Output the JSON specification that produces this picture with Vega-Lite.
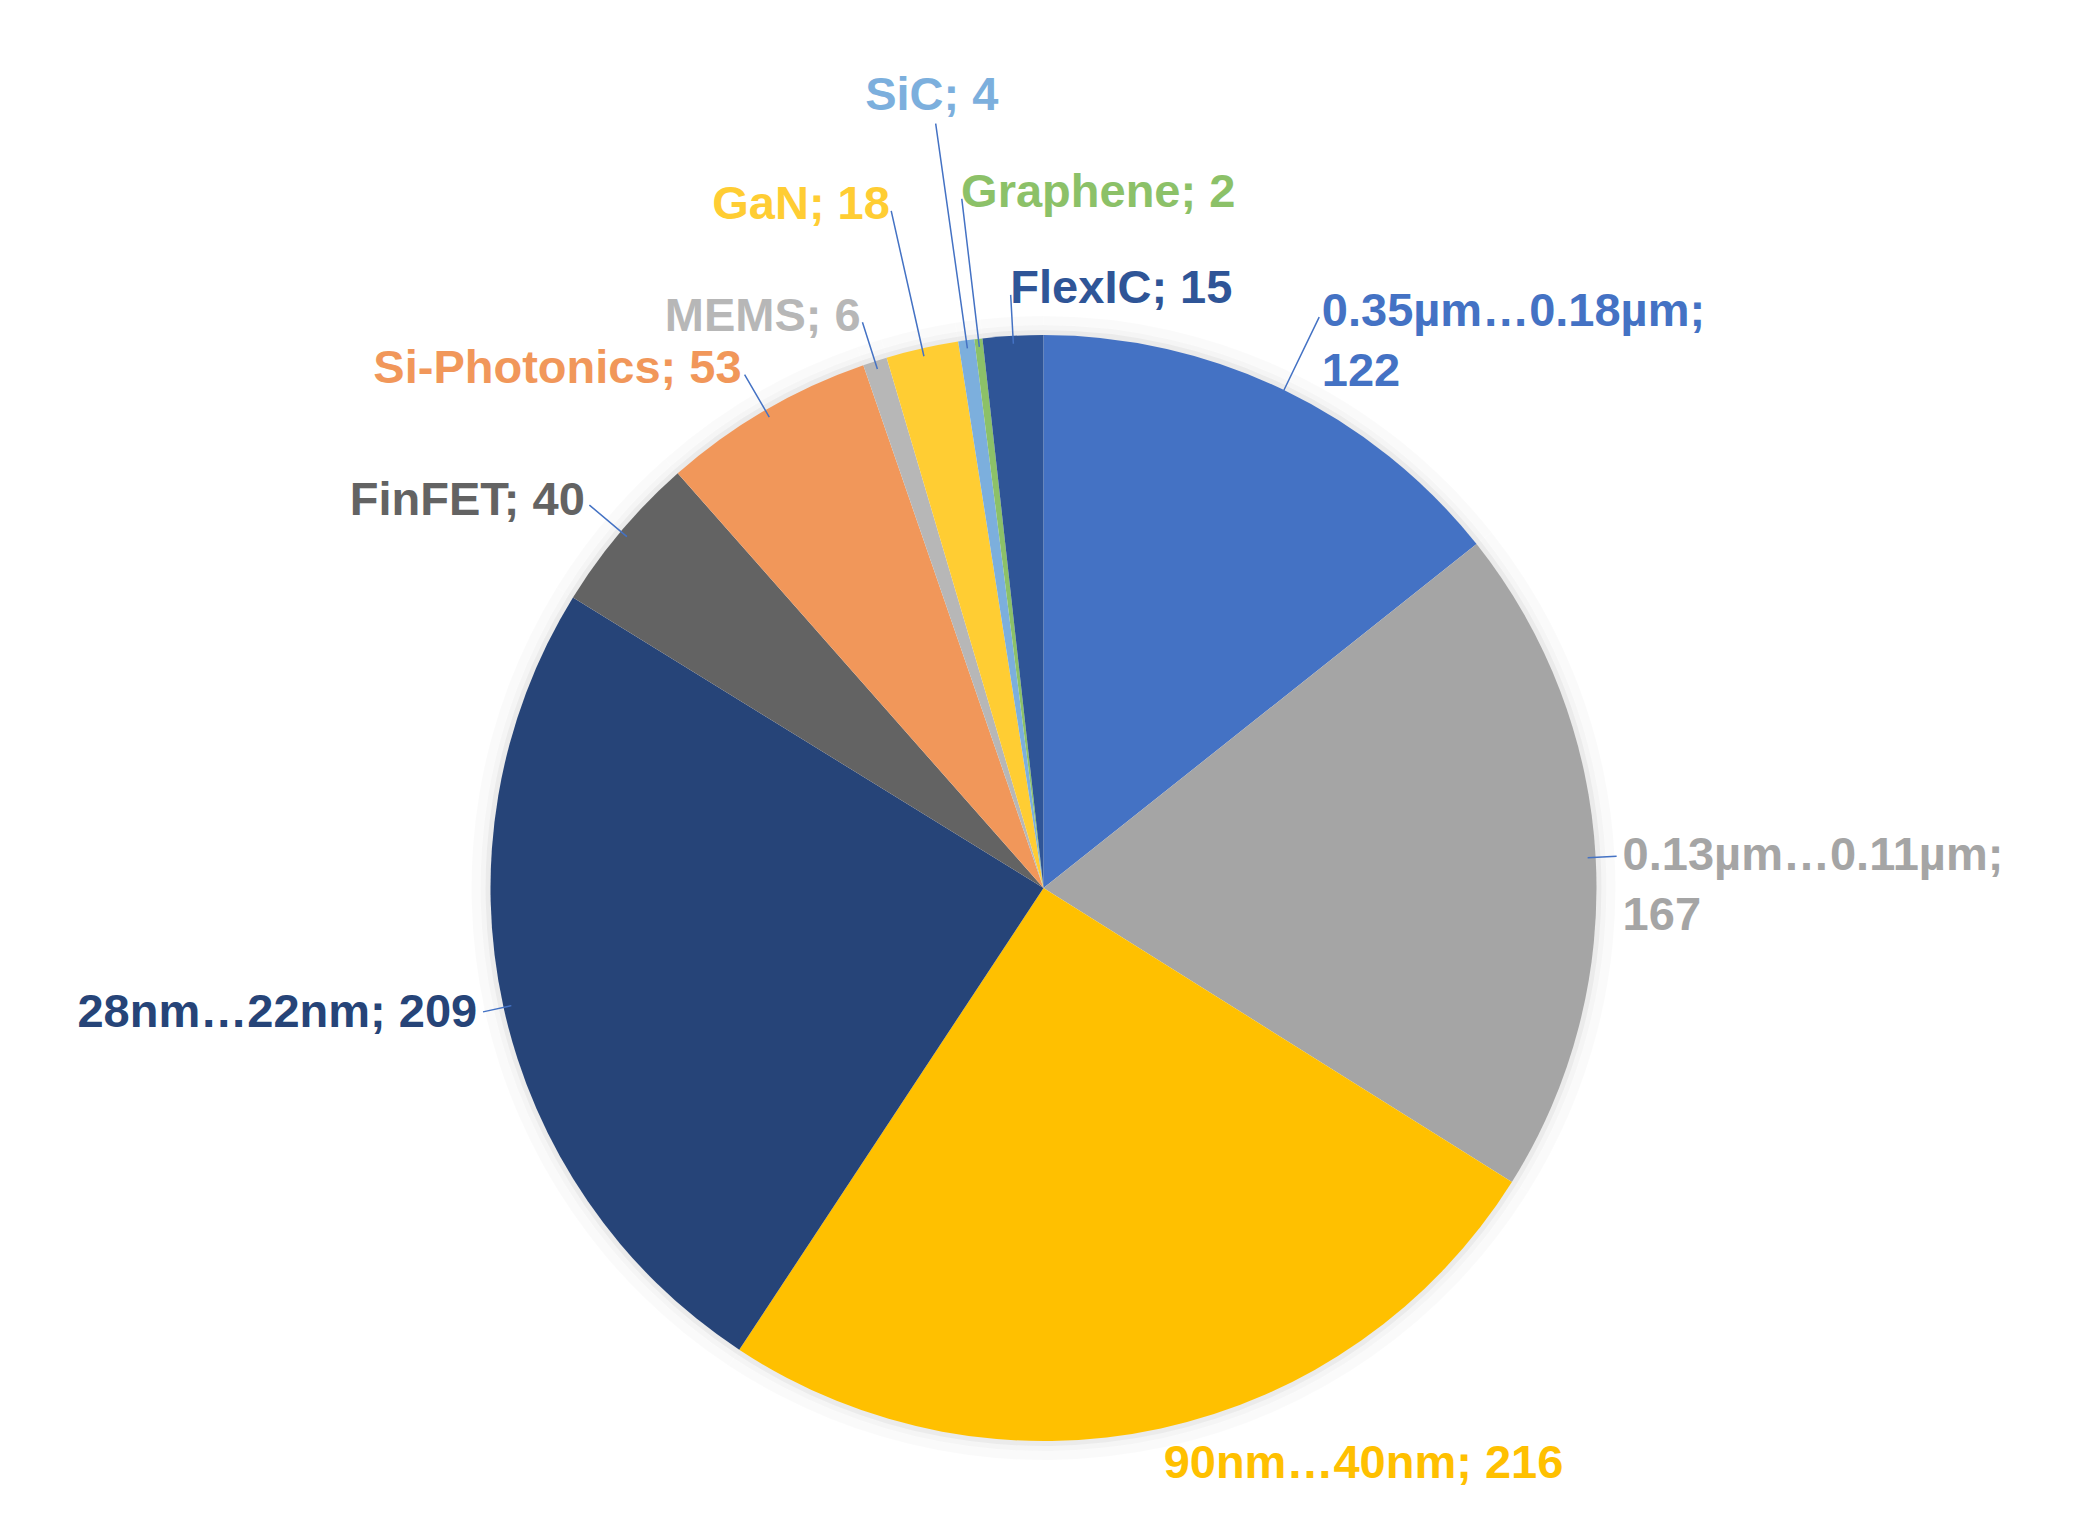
{
  "$schema": "https://vega.github.io/schema/vega-lite/v6.json",
  "width": 2087,
  "height": 1250,
  "autosize": {"type": "none"},
  "padding": {"top": 263, "left": 0, "right": 0, "bottom": 0},
  "background": "white",
  "config": {
    "view": {"stroke": null},
    "text": {"font": "Liberation Sans", "fontWeight": "bold", "fontSize": 47}
  },
  "data": {
    "values": [
      {"category": "0.35µm…0.18µm", "value": 122},
      {"category": "0.13µm…0.11µm", "value": 167},
      {"category": "90nm…40nm", "value": 216},
      {"category": "28nm…22nm", "value": 209},
      {"category": "FinFET", "value": 40},
      {"category": "Si-Photonics", "value": 53},
      {"category": "MEMS", "value": 6},
      {"category": "GaN", "value": 18},
      {"category": "SiC", "value": 4},
      {"category": "Graphene", "value": 2},
      {"category": "FlexIC", "value": 15}
    ]
  },
  "transform": [
    {"window": [{"op": "sum", "field": "value", "as": "cum"}], "frame": [null, 0]},
    {"calculate": "datum.cum - datum.value", "as": "start"},
    {"calculate": "datum.cum - datum.value / 2", "as": "mid"},
    {"calculate": "indexof(datum.category, 'µm') >= 0 ? datum.category + ';\\n' + datum.value : datum.category + '; ' + datum.value", "as": "label"}
  ],
  "layer": [
    {
      "mark": {"type": "arc", "radius": 572, "radius2": 563, "fill": "#000000", "opacity": 0.02},
      "encoding": {
        "theta": {"field": "cum", "type": "quantitative", "scale": {"zero": true, "nice": false}},
        "theta2": {"field": "start"}
      }
    },
    {
      "mark": {"type": "arc", "radius": 563, "radius2": 558, "fill": "#000000", "opacity": 0.04},
      "encoding": {
        "theta": {"field": "cum", "type": "quantitative"},
        "theta2": {"field": "start"}
      }
    },
    {
      "mark": {"type": "arc", "radius": 558, "radius2": 552, "fill": "#000000", "opacity": 0.08},
      "encoding": {
        "theta": {"field": "cum", "type": "quantitative"},
        "theta2": {"field": "start"}
      }
    },
    {
      "mark": {"type": "arc", "radius": 553},
      "encoding": {
        "theta": {"field": "cum", "type": "quantitative"},
        "theta2": {"field": "start"},
        "color": {
          "field": "category",
          "type": "nominal",
          "scale": {
            "domain": ["0.35µm…0.18µm", "0.13µm…0.11µm", "90nm…40nm", "28nm…22nm", "FinFET", "Si-Photonics", "MEMS", "GaN", "SiC", "Graphene", "FlexIC"],
            "range": ["#4472C4", "#A5A5A5", "#FFC000", "#264478", "#636363", "#F1975A", "#B7B7B7", "#FFCD33", "#7CAFDD", "#8CC168", "#2F5597"]
          },
          "legend": null
        }
      }
    },
    {
      "transform": [{"filter": {"field": "category", "oneOf": ["0.35µm…0.18µm"]}}],
      "mark": {"type": "arc", "radius": 634, "radius2": 545, "stroke": "#4472C4", "strokeWidth": 1.5, "fillOpacity": 0},
      "encoding": {"theta": {"field": "mid", "type": "quantitative"}, "theta2": {"field": "mid"}}
    },
    {
      "transform": [{"filter": {"field": "category", "oneOf": ["0.13µm…0.11µm", "28nm…22nm"]}}],
      "mark": {"type": "arc", "radius": 574, "radius2": 545, "stroke": "#4472C4", "strokeWidth": 1.5, "fillOpacity": 0},
      "encoding": {"theta": {"field": "mid", "type": "quantitative"}, "theta2": {"field": "mid"}}
    },
    {
      "transform": [{"filter": {"field": "category", "oneOf": ["FinFET", "Si-Photonics", "MEMS", "FlexIC"]}}],
      "mark": {"type": "arc", "radius": 594, "radius2": 545, "stroke": "#4472C4", "strokeWidth": 1.5, "fillOpacity": 0},
      "encoding": {"theta": {"field": "mid", "type": "quantitative"}, "theta2": {"field": "mid"}}
    },
    {
      "transform": [{"filter": {"field": "category", "oneOf": ["GaN", "Graphene"]}}],
      "mark": {"type": "arc", "radius": 694, "radius2": 545, "stroke": "#4472C4", "strokeWidth": 1.5, "fillOpacity": 0},
      "encoding": {"theta": {"field": "mid", "type": "quantitative"}, "theta2": {"field": "mid"}}
    },
    {
      "transform": [{"filter": {"field": "category", "oneOf": ["SiC"]}}],
      "mark": {"type": "arc", "radius": 772, "radius2": 545, "stroke": "#4472C4", "strokeWidth": 1.5, "fillOpacity": 0},
      "encoding": {"theta": {"field": "mid", "type": "quantitative"}, "theta2": {"field": "mid"}}
    },
    {
      "transform": [{"filter": {"field": "category", "oneOf": ["0.35µm…0.18µm"]}}],
      "mark": {"type": "text", "radius": 640, "align": "left", "baseline": "middle", "lineBreak": "\n", "lineHeight": 60},
      "encoding": {
        "theta": {"field": "mid", "type": "quantitative"},
        "text": {"field": "label"},
        "color": {"field": "category", "type": "nominal", "legend": null}
      }
    },
    {
      "transform": [{"filter": {"field": "category", "oneOf": ["0.13µm…0.11µm"]}}],
      "mark": {"type": "text", "radius": 580, "align": "left", "baseline": "middle", "lineBreak": "\n", "lineHeight": 60},
      "encoding": {
        "theta": {"field": "mid", "type": "quantitative"},
        "text": {"field": "label"},
        "color": {"field": "category", "type": "nominal", "legend": null}
      }
    },
    {
      "transform": [{"filter": {"field": "category", "oneOf": ["90nm…40nm"]}}],
      "mark": {"type": "text", "radius": 566, "align": "left", "baseline": "top"},
      "encoding": {
        "theta": {"field": "mid", "type": "quantitative"},
        "text": {"field": "label"},
        "color": {"field": "category", "type": "nominal", "legend": null}
      }
    },
    {
      "transform": [{"filter": {"field": "category", "oneOf": ["28nm…22nm"]}}],
      "mark": {"type": "text", "radius": 580, "align": "right", "baseline": "middle"},
      "encoding": {
        "theta": {"field": "mid", "type": "quantitative"},
        "text": {"field": "label"},
        "color": {"field": "category", "type": "nominal", "legend": null}
      }
    },
    {
      "transform": [{"filter": {"field": "category", "oneOf": ["FinFET", "Si-Photonics", "MEMS"]}}],
      "mark": {"type": "text", "radius": 600, "align": "right", "baseline": "middle"},
      "encoding": {
        "theta": {"field": "mid", "type": "quantitative"},
        "text": {"field": "label"},
        "color": {"field": "category", "type": "nominal", "legend": null}
      }
    },
    {
      "transform": [{"filter": {"field": "category", "oneOf": ["GaN"]}}],
      "mark": {"type": "text", "radius": 700, "align": "right", "baseline": "middle"},
      "encoding": {
        "theta": {"field": "mid", "type": "quantitative"},
        "text": {"field": "label"},
        "color": {"field": "category", "type": "nominal", "legend": null}
      }
    },
    {
      "transform": [{"filter": {"field": "category", "oneOf": ["SiC"]}}],
      "mark": {"type": "text", "radius": 800, "align": "center", "baseline": "middle"},
      "encoding": {
        "theta": {"field": "mid", "type": "quantitative"},
        "text": {"field": "label"},
        "color": {"field": "category", "type": "nominal", "legend": null}
      }
    },
    {
      "transform": [{"filter": {"field": "category", "oneOf": ["Graphene"]}}],
      "mark": {"type": "text", "radius": 700, "align": "left", "baseline": "middle"},
      "encoding": {
        "theta": {"field": "mid", "type": "quantitative"},
        "text": {"field": "label"},
        "color": {"field": "category", "type": "nominal", "legend": null}
      }
    },
    {
      "transform": [{"filter": {"field": "category", "oneOf": ["FlexIC"]}}],
      "mark": {"type": "text", "radius": 600, "align": "left", "baseline": "middle"},
      "encoding": {
        "theta": {"field": "mid", "type": "quantitative"},
        "text": {"field": "label"},
        "color": {"field": "category", "type": "nominal", "legend": null}
      }
    }
  ]
}
